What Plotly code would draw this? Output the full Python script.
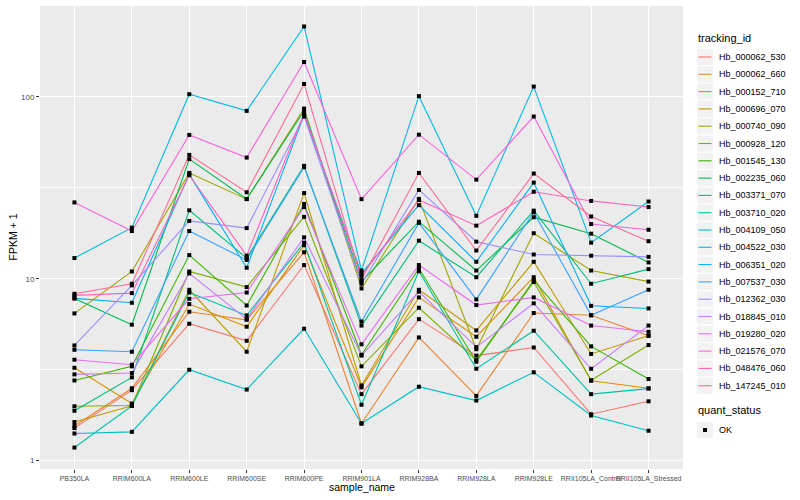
import plotly.graph_objects as go

samples = ["PB350LA", "RRIM600LA", "RRIM600LE", "RRIM600SE", "RRIM600PE", "RRIM901LA",
           "RRIM928BA", "RRIM928LA", "RRIM928LE", "RRII105LA_Control", "RRII105LA_Stressed"]

tracking_ids = ["Hb_000062_530", "Hb_000062_660", "Hb_000152_710", "Hb_000696_070",
                "Hb_000740_090", "Hb_000928_120", "Hb_001545_130", "Hb_002235_060",
                "Hb_003371_070", "Hb_003710_020", "Hb_004109_050", "Hb_004522_030",
                "Hb_006351_020", "Hb_007537_030", "Hb_012362_030", "Hb_018845_010",
                "Hb_019280_020", "Hb_021576_070", "Hb_048476_060", "Hb_147245_010"]

colors = ["#F8766D", "#EA8331", "#D89000", "#C09B00", "#A3A500", "#7CAE00", "#39B600",
          "#00BB4E", "#00BF7D", "#00C1A3", "#00BFC4", "#00BAE0", "#00B0F6", "#35A2FF",
          "#9590FF", "#C77CFF", "#E76BF3", "#FA62DB", "#FF62BC", "#FF6C91"]

quant_status = ["OK"]

# FPKM + 1 per tracking_id across samples
Hb_000062_530 = [1.51, 2.44, 5.66, 4.56, 11.9, 2.32, 6.0, 3.78, 4.19, 1.80, 2.12]
Hb_000062_660 = [1.55, 2.50, 6.59, 5.95, 14.0, 1.60, 4.76, 2.27, 6.48, 6.3, 4.86]
Hb_000152_710 = [3.24, 2.06, 7.26, 5.45, 15.3, 2.53, 7.9, 4.8, 10.2, 2.75, 2.50]
Hb_000696_070 = [1.63, 2.0, 8.7, 3.97, 29.6, 2.59, 8.7, 5.2, 12.4, 3.86, 4.86]
Hb_000740_090 = [6.45, 10.97, 38.2, 27.4, 86.3, 8.85, 27.5, 4.1, 17.8, 11.1, 9.65]
Hb_000928_120 = [1.99, 2.01, 10.97, 9.0, 21.9, 3.30, 6.93, 3.57, 9.6, 2.77, 4.32]
Hb_001545_130 = [2.76, 3.3, 13.5, 7.13, 25.8, 3.82, 11.4, 3.5, 9.8, 4.25, 2.81]
Hb_002235_060 = [7.8, 5.59, 45.5, 27.5, 84.0, 9.65, 20.6, 11.1, 21.8, 17.7, 12.3]
Hb_003371_070 = [1.88, 2.87, 23.8, 13.0, 41.8, 5.53, 16.2, 10.2, 23.7, 9.39, 11.3]
Hb_003710_020 = [1.18, 2.0, 8.4, 6.29, 15.8, 2.03, 11.0, 3.2, 5.18, 2.32, 2.49]
Hb_004109_050 = [1.41, 1.44, 3.16, 2.46, 5.31, 1.60, 2.55, 2.14, 3.06, 1.77, 1.46]
Hb_004522_030 = [13.0, 19.1, 103.5, 83.8, 244.0, 11.1, 101.0, 22.2, 114.0, 15.8, 26.6]
Hb_006351_020 = [7.8, 7.38, 37.5, 11.5, 79.4, 10.7, 25.4, 12.4, 33.8, 7.1, 6.87]
Hb_007537_030 = [4.07, 3.97, 18.3, 12.7, 41.1, 5.82, 20.3, 7.7, 23.2, 6.3, 8.7]
Hb_012362_030 = [4.3, 9.2, 20.8, 19.0, 78.0, 9.39, 30.8, 16.0, 13.6, 13.4, 13.2]
Hb_018845_010 = [2.98, 3.03, 10.7, 6.0, 16.9, 3.78, 8.5, 4.21, 7.33, 3.2, 5.53]
Hb_019280_020 = [3.59, 3.37, 7.76, 8.4, 24.8, 4.36, 11.9, 7.17, 7.9, 5.53, 5.11]
Hb_021576_070 = [26.3, 18.3, 61.8, 46.4, 155.6, 27.4, 62.0, 35.1, 78.0, 20.0, 18.6]
Hb_048476_060 = [8.1, 8.34, 37.1, 13.4, 81.3, 10.4, 27.1, 19.6, 30.1, 26.8, 24.8]
Hb_147245_010 = [8.27, 9.39, 48.0, 29.9, 117.9, 9.9, 38.2, 14.3, 37.9, 22.0, 16.1]

series = [Hb_000062_530, Hb_000062_660, Hb_000152_710, Hb_000696_070, Hb_000740_090,
          Hb_000928_120, Hb_001545_130, Hb_002235_060, Hb_003371_070, Hb_003710_020,
          Hb_004109_050, Hb_004522_030, Hb_006351_020, Hb_007537_030, Hb_012362_030,
          Hb_018845_010, Hb_019280_020, Hb_021576_070, Hb_048476_060, Hb_147245_010]

y_ticks = [1, 10, 100]
y_tick_labels = ["1", "10", "100"]

FONT = "Liberation Sans"
W, H = 800, 500
ML, MR, MT, MB = 40, 117, 6, 31
PW, PH = W - ML - MR, H - MT - MB


def px_x(px):
    return (px - ML) / PW


def px_y(py):
    return (H - MB - py) / PH


fig = go.Figure()

for name, vals, col in zip(tracking_ids, series, colors):
    fig.add_trace(go.Scatter(x=samples, y=vals, mode="lines", name=name,
                             line=dict(color=col, width=1.1), showlegend=False))

all_x = [s for _ in series for s in samples]
all_y = [v for vals in series for v in vals]
fig.add_trace(go.Scatter(x=all_x, y=all_y, mode="markers", name=quant_status[0],
                         marker=dict(symbol="square", size=4, color="black"),
                         showlegend=False))

# manual ggplot-like legend
shapes = []
annotations = []
annotations.append(dict(text="tracking_id", xref="paper", yref="paper", x=px_x(696),
                        y=px_y(38), xanchor="left", yanchor="middle", showarrow=False,
                        font=dict(size=11, family=FONT, color="black")))
step = 17.3
y0 = 57
for i, (name, col) in enumerate(zip(tracking_ids, colors)):
    cy = y0 + i * step
    shapes.append(dict(type="rect", xref="paper", yref="paper", x0=px_x(697), x1=px_x(713),
                       y0=px_y(cy - 8), y1=px_y(cy + 8), fillcolor="#F2F2F2",
                       line=dict(width=0), layer="above"))
    shapes.append(dict(type="line", xref="paper", yref="paper", x0=px_x(698.5), x1=px_x(711.5),
                       y0=px_y(cy), y1=px_y(cy), line=dict(color=col, width=1.1), layer="above"))
    annotations.append(dict(text=name, xref="paper", yref="paper", x=px_x(717), y=px_y(cy),
                            xanchor="left", yanchor="middle", showarrow=False,
                            font=dict(size=9, family=FONT, color="black")))

annotations.append(dict(text="quant_status", xref="paper", yref="paper", x=px_x(696),
                        y=px_y(410), xanchor="left", yanchor="middle", showarrow=False,
                        font=dict(size=11, family=FONT, color="black")))
cy = 430
shapes.append(dict(type="rect", xref="paper", yref="paper", x0=px_x(697), x1=px_x(713),
                   y0=px_y(cy - 8), y1=px_y(cy + 8), fillcolor="#F2F2F2",
                   line=dict(width=0), layer="above"))
shapes.append(dict(type="rect", xref="paper", yref="paper", x0=px_x(703), x1=px_x(707),
                   y0=px_y(cy - 2), y1=px_y(cy + 2), fillcolor="black",
                   line=dict(width=0), layer="above"))
annotations.append(dict(text=quant_status[0], xref="paper", yref="paper", x=px_x(717), y=px_y(cy),
                        xanchor="left", yanchor="middle", showarrow=False,
                        font=dict(size=9, family=FONT, color="black")))

# axis titles
annotations.append(dict(text="sample_name", xref="paper", yref="paper", x=0.5, y=0,
                        yshift=-18, xanchor="center", yanchor="middle", showarrow=False,
                        font=dict(size=10.5, family=FONT, color="black")))
annotations.append(dict(text="FPKM + 1", xref="paper", yref="paper", x=0, y=0.5,
                        xshift=-28, xanchor="center", yanchor="middle", showarrow=False,
                        textangle=-90, font=dict(size=10.5, family=FONT, color="black")))

fig.update_layout(
    width=W, height=H,
    margin=dict(l=ML, r=MR, t=MT, b=MB),
    paper_bgcolor="white", plot_bgcolor="#EBEBEB",
    font=dict(family=FONT, size=9, color="black"),
    showlegend=False,
    xaxis=dict(type="category", range=[-0.6, 10.6], showgrid=True, gridcolor="white",
               gridwidth=1.1, zeroline=False, ticks="outside", ticklen=3, tickangle=0,
               tickcolor="#333333", tickfont=dict(size=7, color="#4D4D4D", family=FONT),
               showline=False, automargin=False),
    yaxis=dict(type="log", range=[-0.046, 2.5], tickvals=y_ticks, ticktext=y_tick_labels,
               showgrid=True, gridcolor="white", gridwidth=1.1, zeroline=False,
               ticks="outside", ticklen=3, tickcolor="#333333",
               tickfont=dict(size=8, color="#4D4D4D", family=FONT),
               minor=dict(tickvals=[10 ** 0.5, 10 ** 1.5], showgrid=True,
                          gridcolor="white", gridwidth=0.5, ticks=""),
               showline=False, automargin=False),
    shapes=shapes,
    annotations=annotations,
)

fig.write_html("out.html", config={"displayModeBar": False},
               post_script="document.body.style.margin='0';document.body.style.overflow='hidden';")
